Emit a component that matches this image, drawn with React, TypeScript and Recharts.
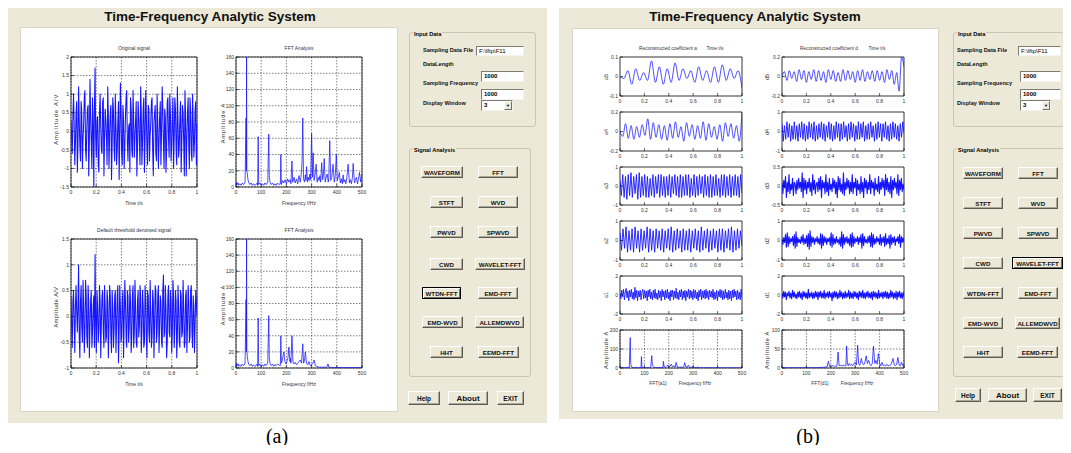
import React from 'react'
import { LineChart, Line, XAxis, YAxis, CartesianGrid, ReferenceArea } from 'recharts'

// ── Palette / fonts ───────────────────────────────────────────────────────────

const BEIGE = '#ECE9D8'
const BLUE = '#1414ff'
const SANS = '"Liberation Sans", Arial, sans-serif'

// ── Data ──────────────────────────────────────────────────────────────────────
// time signals are sampled evenly on 0..1 s, spectra are [freq, amplitude]

const TIME_TICKS = [0, 0.2, 0.4, 0.6, 0.8, 1]
const FREQ_TICKS = [0, 100, 200, 300, 400, 500]

const ORIG = [
  0.3,-0.2,-0.6,0.4,1.0,0.2,-0.9,-0.3,0.5,0.8,-1.1,-0.4,1.2,0.3,-0.4,-0.8,0.8,0.5,-1.0,-0.2,
  0.2,0.9,1.1,-0.5,-0.8,0.1,0.6,0.7,-1.2,-0.3,1.4,0.4,-0.3,-1.0,0.9,0.2,-1.5,0.6,1.7,-0.2,
  -0.7,0.3,0.4,-0.9,-1.1,0.5,1.0,0.1,-0.5,-0.6,0.8,0.9,-1.2,-0.2,0.6,0.3,-0.2,-0.9,1.2,0.4,
  -1.0,-0.1,0.5,0.7,-1.3,-0.4,0.9,0.6,-0.4,-0.8,1.0,0.2,-0.9,-0.5,0.3,0.8,-1.3,-0.2,1.3,0.5,
  -0.6,-0.9,0.7,0.3,-1.0,-0.4,0.4,0.9,1.1,-0.3,-0.8,0.1,0.2,-1.1,0.9,0.6,-0.5,-0.7,1.1,0.3,
  -0.7,-0.2,0.3,0.8,-1.2,-0.5,0.8,0.4,-0.3,-0.9,1.2,0.5,-0.9,-0.3,0.6,0.9,-1.1,-0.2,1.1,0.4,
  -0.4,-0.9,0.7,0.6,-0.8,-0.1,0.2,0.8,0.9,-0.5,-1.2,0.2,0.5,0.7,-0.6,-0.8,1.0,0.3,-1.0,-0.3,
  0.4,0.8,-0.9,-0.1,1.2,0.6,-0.3,-1.0,0.6,0.4,-1.1,-0.5,0.8,0.9,-0.2,-0.7,1.0,0.5,-0.8,-0.4,
  0.3,0.9,-1.0,-0.2,0.9,0.6,-0.5,-0.9,1.2,0.3,-0.7,-0.4,0.4,0.8,-1.1,-0.3,0.7,0.5,-0.3,-1.2,
  1.1,0.4,-1.2,-0.2,0.5,0.9,-0.4,-1.0,0.9,0.5,-0.6,-0.8,1.0,0.2,-0.7,-0.3,0.6,0.8,-0.9,0.2,
]

const DENOISED = [
  0.4,-0.2,-0.6,0.3,0.5,-0.1,-0.7,0.2,0.6,0.1,-0.3,0.2,1.0,-0.4,-0.8,0.3,0.6,-0.2,-0.5,0.7,
  0.2,-0.7,-0.3,0.7,0.4,-0.4,-0.6,0.6,0.3,-0.8,-0.2,0.3,0.5,-0.6,-0.3,0.2,0.4,-0.6,1.2,-0.1,
  -0.7,0.5,0.2,-0.5,-0.3,0.6,0.3,-0.8,-0.1,0.4,0.5,-0.3,-0.6,0.6,0.2,-0.5,-0.4,0.5,0.3,-0.8,
  -0.2,0.6,0.4,-0.4,-0.7,0.5,0.2,-0.6,-0.3,0.4,0.5,-0.7,-0.2,0.4,0.6,-0.9,-0.3,0.6,0.2,-0.5,
  -0.4,0.3,0.5,-0.8,-0.1,0.7,0.3,-0.4,-0.6,0.5,0.4,-0.5,-0.2,0.6,0.3,-0.7,-0.4,0.4,0.6,-0.6,
  -0.3,0.7,0.2,-0.5,-0.6,0.3,0.5,-0.4,-0.2,0.6,0.4,-0.7,-0.3,0.5,0.2,-0.6,-0.5,0.6,0.3,-0.4,
  -0.8,0.5,0.4,-0.3,-0.5,0.7,0.1,-0.6,-0.4,0.5,0.3,-0.8,-0.2,0.6,0.5,-0.5,-0.3,0.4,0.6,-0.7,
  -0.2,0.4,0.3,-0.5,-0.6,0.5,0.8,-0.4,-0.3,0.6,0.2,-0.8,-0.5,0.4,0.6,-0.3,-0.4,0.5,0.3,-0.7,
  -0.3,0.7,0.4,-0.6,-0.2,0.5,0.3,-0.8,-0.4,0.6,0.2,-0.5,-0.6,0.5,0.4,-0.4,-0.3,0.7,0.2,-0.6,
  -0.5,0.4,0.5,-0.7,-0.2,0.6,0.3,-0.5,-0.4,0.5,0.6,-0.3,-0.6,0.4,0.2,-0.7,-0.2,0.5,0.3,0.0,
]

const FFT_ORIG = [[0,2],[3,6],[5,3],[8,5],[10,2],[15,4],[20,2],[25,5],[30,3],[34,4],[36,7],[40,85],[41,20],[42,160],[43,22],[45,16],[47,10],[50,6],[55,3],[60,5],[65,2],[70,4],[75,2],[80,3],[84,5],[86,2],[88,62],[90,3],[95,5],[100,2],[105,4],[110,2],[115,5],[120,3],[126,6],[130,65],[132,14],[134,8],[136,5],[140,3],[145,5],[150,2],[155,4],[160,2],[165,5],[170,3],[176,4],[178,40],[180,3],[185,8],[190,5],[195,9],[200,4],[205,10],[210,6],[215,9],[218,4],[222,32],[225,6],[230,12],[235,5],[240,10],[245,4],[250,14],[255,6],[258,12],[262,30],[265,85],[268,10],[272,6],[275,15],[278,8],[280,25],[284,6],[287,12],[290,8],[293,16],[296,9],[300,66],[303,12],[306,42],[310,8],[314,16],[318,28],[322,6],[326,12],[330,8],[333,14],[336,6],[340,30],[344,9],[347,16],[350,35],[354,6],[358,12],[362,16],[366,6],[368,10],[372,57],[376,8],[380,12],[385,28],[390,6],[394,14],[398,40],[402,8],[406,12],[410,18],[414,5],[418,10],[422,4],[425,15],[428,6],[432,9],[436,4],[440,12],[445,28],[450,5],[454,9],[458,4],[462,12],[465,29],[470,5],[474,9],[478,12],[482,4],[486,10],[490,18],[495,6],[498,12],[500,16]]

const FFT_DENOISED = [[0,2],[3,6],[5,3],[8,5],[10,2],[15,4],[20,2],[25,5],[30,3],[34,4],[36,7],[40,85],[41,20],[42,160],[43,22],[45,14],[47,9],[50,5],[55,3],[60,5],[65,2],[70,4],[75,2],[80,3],[84,5],[86,2],[88,62],[90,3],[95,5],[100,2],[105,4],[110,2],[115,5],[120,3],[126,6],[130,65],[132,14],[134,8],[136,5],[140,3],[145,5],[150,2],[155,4],[160,3],[165,5],[170,4],[176,3],[178,40],[180,6],[184,9],[186,14],[190,20],[194,8],[198,5],[200,6],[203,9],[206,12],[210,26],[214,8],[216,12],[218,6],[222,40],[226,8],[230,5],[235,7],[240,4],[245,6],[250,8],[255,10],[260,6],[265,30],[268,6],[272,9],[275,20],[280,6],[285,4],[290,8],[295,3],[300,4],[305,6],[310,10],[315,3],[320,2],[330,1],[340,1],[350,1],[358,1],[362,2],[365,5],[368,1],[380,0.5],[400,0.5],[450,0.5],[500,0.5]]

const A5 = [0,-0.01,0.03,-0.04,0.04,-0.02,0.02,-0.02,0.08,-0.03,0.05,-0.04,0.04,-0.03,0.07,-0.02,0.04,-0.01,0.03,-0.03,0.05,-0.02,0.03,-0.03,0.05,-0.03,0.06,-0.02,0.04,-0.01,0.03,-0.06]
const A4 = [0,-0.05,0.08,-0.07,0.06,-0.08,0.05,-0.06,0.07,-0.04,0.13,-0.08,0.09,-0.06,0.07,-0.08,0.06,-0.09,0.08,-0.07,0.1,-0.06,0.05,-0.1,0.09,-0.05,0.07,-0.08,0.06,-0.07,0.1,-0.09,0.08,-0.06,0.05,-0.08,0.07,-0.1,0.09,-0.05,0.08,-0.07,0.06,-0.1,0.2]
const A3 = [0.3,-0.5,0.6,-0.6,0.5,-0.7,0.6,-0.5,0.7,-0.6,0.5,-0.4,0.6,-0.7,0.7,-0.6,0.5,-0.5,0.6,-0.6,0.5,-0.6,0.4,-0.5,0.6,-0.6,0.5,-0.4,0.6,-0.6,0.6,-0.5,0.5,-0.6,0.5,-0.5,0.6,-0.6,0.5,-0.4,0.6,-0.5,0.5,-0.6,0.6,-0.6,0.5,-0.5,0.6,-0.5,0.6,-0.6,0.4,-0.5,0.6,-0.6,0.5,-0.5,0.6,-0.4,0.5,-0.6,0.6,-0.5,0.5,-0.6,0.6,-0.6,0.5,-0.5,0.6,-0.5,0.4,-0.6,0.6,-0.5,0.6,-0.6,0.5,-0.5,0.6,-0.6,0.5,-0.5,0.6,-0.5,0.5,-0.6,0.6,-0.4]
const A2 = [0.4,-0.5,0.6,-0.4,0.7,-0.6,0.5,-0.5,0.6,-0.6,0.7,-0.4,0.5,-0.6,0.6,-0.5,0.5,-0.4,0.7,-0.6,0.6,-0.5,0.5,-0.6,0.6,-0.4,0.5,-0.5,0.6,-0.6,0.5,-0.4,0.6,-0.5,0.7,-0.6,0.5,-0.5,0.6,-0.4,0.5,-0.6,0.6,-0.5,0.5,-0.5,0.6,-0.6,0.5,-0.4,0.6,-0.5,0.5,-0.6,0.7,-0.5,0.5,-0.4,0.6,-0.6,0.5,-0.5,0.6,-0.4,0.5,-0.6,0.6,-0.5,0.6,-0.6,0.5,-0.4,0.6,-0.5,0.7,-0.6,0.5,-0.5,0.6,-0.4,0.5,-0.3]
const A1 = [
  0.2,-0.4,0.5,-0.2,0.6,-0.5,0.3,0.7,-0.3,0.4,-0.6,0.5,-0.2,0.6,-0.4,0.3,-0.5,0.8,-0.3,0.5,
  -0.6,0.4,-0.2,0.5,-0.5,0.3,0.6,-0.4,0.5,-0.3,0.4,-0.6,0.5,-0.2,0.6,-0.4,0.3,-0.5,0.5,-0.3,
  0.6,-0.4,0.2,-0.5,0.5,-0.3,0.4,-0.6,0.6,-0.2,0.4,-0.5,0.5,-0.3,0.6,-0.4,0.3,-0.6,0.5,-0.2,
  0.5,-0.5,0.4,-0.3,0.7,-0.4,0.3,-0.5,0.5,-0.2,0.6,-0.5,0.4,-0.3,0.5,-0.6,0.4,-0.2,0.6,-0.4,
  0.5,-0.3,0.4,-0.5,0.6,-0.3,0.5,-0.4,0.3,-0.6,0.5,-0.2,0.6,-0.5,0.4,-0.3,0.5,-0.4,0.6,-0.3,
  0.4,-0.5,0.5,-0.2,0.4,-0.3,0.6,-0.5,0.3,-0.4,0.5,-0.6,0.4,-0.2,0.6,-0.3,0.5,-0.5,0.4,-0.4,
  0.6,-0.3,0.3,-0.5,0.5,-0.4,0.4,-0.6,0.5,-0.3,0.6,-0.2,0.4,-0.5,0.5,-0.4,0.3,-0.5,0.6,-0.3,
]

const D5 = [0,0.05,-0.04,0.06,-0.02,0.05,-0.05,0.07,-0.03,0.06,-0.06,0.05,-0.03,0.07,-0.05,0.06,-0.04,0.05,-0.06,0.07,-0.03,0.06,-0.05,0.04,-0.05,0.07,-0.04,0.06,-0.03,0.05,-0.06,0.06,-0.04,0.07,-0.05,0.05,-0.03,0.06,-0.05,0.06,-0.04,0.05,-0.06,0.07,-0.03,0.06,-0.08,0.04,-0.15,0.2,0.1]
const D4 = [0.4,-0.5,0.3,-0.4,0.5,-0.3,0.4,-0.5,0.3,-0.4,0.5,-0.4,0.3,-0.5,0.4,-0.3,0.5,-0.4,0.4,-0.5,0.3,-0.4,0.5,-0.3,0.4,-0.4,0.5,-0.5,0.3,-0.4,0.4,-0.3,0.5,-0.4,0.4,-0.5,0.3,-0.3,0.5,-0.4,0.4,-0.5,0.3,-0.4,0.5,-0.3,0.4,-0.5,0.4,-0.4,0.5,-0.3,0.3,-0.5,0.4,-0.4,0.5,-0.3,0.4,-0.5,0.3,-0.4,0.5,-0.4,0.4,-0.3,0.5,-0.5,0.3,-0.4,0.4,-0.4,0.5,-0.3,0.3,-0.5,0.4,-0.4,0.5,-0.3,0.4,-0.5,0.4,-0.3,0.5,-0.4,0.3,-0.5,0.4,-0.4,0.5,-0.3,0.4,-0.4,0.3,-0.5,0.4,-0.3,0.5,-0.1]
const D3 = [
  0.1,-0.2,0.15,-0.05,0.25,-0.3,0.1,-0.15,0.3,-0.2,0.05,-0.1,0.2,-0.25,0.1,0.05,-0.2,0.15,-0.1,0.2,
  -0.05,0.1,-0.15,0.35,-0.3,0.2,-0.1,0.15,-0.2,0.1,-0.05,0.2,-0.15,0.1,-0.25,0.3,-0.1,0.15,-0.2,0.05,
  0.1,-0.15,0.2,-0.1,0.25,-0.3,0.15,-0.05,0.1,-0.2,0.3,-0.15,0.1,-0.25,0.2,-0.1,0.05,-0.15,0.2,-0.05,
  0.15,-0.2,0.1,-0.3,0.25,-0.1,0.2,-0.15,0.05,-0.2,0.35,-0.25,0.1,-0.1,0.2,-0.05,0.15,-0.2,0.1,-0.15,
  0.3,-0.2,0.1,-0.05,0.2,-0.25,0.15,-0.1,0.05,-0.2,0.25,-0.15,0.1,-0.3,0.2,-0.05,0.15,-0.2,0.1,-0.1,
  0.3,-0.2,0.15,-0.05,0.1,-0.25,0.2,-0.1,0.05,-0.15,0.25,-0.2,0.1,-0.1,0.2,-0.05,0.15,-0.25,0.3,-0.1,
  0.2,-0.15,0.1,-0.2,0.25,-0.3,0.15,-0.1,0.2,-0.05,0.1,-0.2,0.3,-0.25,0.15,-0.1,0.2,-0.15,0.05,-0.1,
]
const D2 = [
  0.1,-0.2,0.15,-0.1,0.3,-0.35,0.4,-0.3,0.2,-0.15,0.1,-0.05,0.2,-0.25,0.3,-0.4,0.45,-0.3,0.15,-0.1,
  0.05,-0.15,0.2,-0.1,0.3,-0.2,0.1,-0.15,0.25,-0.3,0.35,-0.45,0.5,-0.3,0.2,-0.1,0.15,-0.2,0.1,-0.05,
  0.2,-0.15,0.1,-0.2,0.35,-0.4,0.3,-0.25,0.2,-0.1,0.15,-0.2,0.1,-0.05,0.15,-0.25,0.4,-0.35,0.3,-0.2,
  0.1,-0.15,0.2,-0.1,0.05,-0.2,0.15,-0.3,0.45,-0.4,0.3,-0.2,0.15,-0.1,0.2,-0.15,0.1,-0.25,0.3,-0.35,
  0.4,-0.3,0.2,-0.15,0.1,-0.05,0.2,-0.2,0.15,-0.1,0.3,-0.4,0.35,-0.25,0.2,-0.1,0.05,-0.15,0.2,-0.1,
  0.25,-0.3,0.4,-0.35,0.3,-0.2,0.1,-0.15,0.2,-0.05,0.1,-0.2,0.3,-0.25,0.15,-0.1,0.2,-0.3,0.35,-0.2,
  0.1,-0.15,0.25,-0.4,0.3,-0.2,0.15,-0.1,0.2,-0.25,0.1,-0.05,0.2,-0.15,0.3,-0.35,0.2,-0.1,0.15,-0.1,
]
const D1 = [
  0.2,-0.3,0.4,-0.2,0.3,-0.5,0.2,-0.1,0.4,-0.3,0.2,-0.4,0.5,-0.2,0.3,-0.3,0.1,-0.4,0.3,-0.2,
  0.4,-0.3,0.2,-0.5,0.4,-0.2,0.3,-0.3,0.2,-0.4,0.6,-0.3,0.2,-0.2,0.3,-0.4,0.2,-0.3,0.4,-0.2,
  0.3,-0.5,0.3,-0.2,0.4,-0.3,0.2,-0.3,0.5,-0.4,0.2,-0.2,0.3,-0.3,0.4,-0.2,0.2,-0.6,0.3,-0.3,
  0.4,-0.2,0.3,-0.4,0.2,-0.3,0.5,-0.2,0.3,-0.4,0.2,-0.3,0.4,-0.3,0.2,-0.2,0.5,-0.4,0.3,-0.3,
  0.2,-0.4,0.4,-0.2,0.3,-0.3,0.2,-0.5,0.4,-0.2,0.3,-0.3,0.5,-0.3,0.2,-0.4,0.3,-0.2,0.4,-0.3,
  0.2,-0.3,0.3,-0.5,0.4,-0.2,0.3,-0.3,0.2,-0.4,0.5,-0.3,0.2,-0.2,0.3,-0.4,0.3,-0.2,0.4,-0.3,
  0.3,-0.4,0.2,-0.3,0.5,-0.2,0.3,-0.4,0.2,-0.3,0.4,-0.5,0.3,-0.2,0.4,-0.3,0.2,-0.4,0.3,-0.2,
]

const FFT_A1 = [[0,1],[10,2],[20,1],[30,3],[38,5],[42,160],[44,20],[48,6],[55,2],[60,3],[70,1],[80,2],[86,3],[88,60],[90,3],[100,1],[110,2],[120,1],[126,4],[130,65],[133,12],[140,4],[150,2],[160,3],[170,2],[176,3],[178,35],[181,5],[186,3],[190,8],[195,15],[200,5],[205,9],[210,20],[215,6],[222,12],[226,5],[230,30],[235,6],[242,4],[250,5],[256,3],[262,8],[265,28],[270,6],[275,4],[280,15],[285,4],[292,3],[300,8],[305,3],[312,2],[320,5],[325,1],[340,1],[360,1],[365,3],[370,0.5],[400,0.5],[500,0.5]]
const FFT_D1 = [[0,0.5],[100,0.5],[150,1],[170,2],[185,3],[190,18],[195,4],[202,5],[210,6],[218,4],[225,5],[230,42],[234,6],[240,7],[246,5],[250,8],[256,6],[262,6],[265,58],[268,10],[272,6],[275,12],[280,7],[285,10],[290,6],[295,12],[300,15],[305,8],[310,60],[314,12],[318,7],[320,10],[325,25],[330,12],[335,8],[340,15],[345,32],[350,12],[355,20],[360,10],[365,6],[370,12],[375,58],[380,12],[385,20],[390,10],[395,38],[400,12],[405,6],[410,15],[415,6],[420,8],[425,5],[430,10],[435,6],[440,6],[447,9],[455,25],[460,8],[465,6],[470,10],[475,28],[480,8],[485,6],[490,15],[495,6],[500,10]]

const BUTTONS = ['WAVEFORM', 'FFT', 'STFT', 'WVD', 'PWVD', 'SPWVD', 'CWD', 'WAVELET-FFT', 'WTDN-FFT', 'EMD-FFT', 'EMD-WVD', 'ALLEMDWVD', 'HHT', 'EEMD-FFT']

type Pt = { x: number; y: number }
const series = (ys: number[]): Pt[] => ys.map((y, i) => ({ x: i / (ys.length - 1), y }))
const spectrum = (pairs: number[][]): Pt[] => pairs.map(([x, y]) => ({ x, y }))

// ── Small helpers ─────────────────────────────────────────────────────────────

function Txt({ x, y, children, size = 5, bold = false, anchor = 'middle', rotate = 0, spacing = 0, color = '#333', family = SANS }: any) {
  const tx = anchor === 'middle' ? '-50%' : anchor === 'end' ? '-100%' : '0'
  return (
    <div
      style={{
        position: 'absolute', left: x, top: y, whiteSpace: 'nowrap', lineHeight: 1,
        transform: `translate(${tx}, -50%)${rotate ? ` rotate(${rotate}deg)` : ''}`,
        fontSize: size, fontWeight: bold ? 'bold' : 'normal', letterSpacing: spacing,
        color, fontFamily: family,
      }}
    >
      {children}
    </div>
  )
}

function Plot({ l, t, r, b, data, xDomain, xTicks, yDomain, yTicks, grid = false, smooth = false, sw = 0.75 }: any) {
  const YW = 24, XH = 14, MT = 4, MR = 6
  const tick = { fontSize: 5, fill: '#333', fontFamily: SANS }
  return (
    <div style={{ position: 'absolute', left: l - YW, top: t - MT }}>
      <LineChart width={r - l + YW + MR} height={b - t + MT + XH} data={data} margin={{ top: MT, right: MR, left: 0, bottom: 0 }}>
        {grid && <CartesianGrid stroke="#000" strokeWidth={0.5} strokeDasharray="1.5 1.5" />}
        <XAxis type="number" dataKey="x" domain={xDomain} ticks={xTicks} interval={0} allowDataOverflow height={XH}
          axisLine={false} tickSize={-3} tickMargin={6} tick={tick} tickLine={{ stroke: '#000', strokeWidth: 0.6 }} />
        <YAxis type="number" domain={yDomain} ticks={yTicks} interval={0} allowDataOverflow width={YW}
          axisLine={false} tickSize={-3} tickMargin={5} tick={tick} tickLine={{ stroke: '#000', strokeWidth: 0.6 }} />
        <Line type={smooth ? 'monotone' : 'linear'} dataKey="y" stroke={BLUE} strokeWidth={sw} strokeLinejoin="round" dot={false} isAnimationActive={false} />
        <ReferenceArea x1={xDomain[0]} x2={xDomain[1]} y1={yDomain[0]} y2={yDomain[1]} fill="none" stroke="#000" strokeWidth={0.8} ifOverflow="visible" />
      </LineChart>
    </div>
  )
}

function Group({ x, y, w, h, label }: any) {
  return (
    <div style={{ position: 'absolute', left: x, top: y, width: w, height: h, boxSizing: 'border-box', border: '1px solid #C9C6B6', borderRadius: 3 }}>
      <div style={{ position: 'absolute', left: 3, top: -1, background: BEIGE, fontSize: 5.6, fontWeight: 'bold', fontFamily: SANS, lineHeight: 1, padding: '0 1px' }}>{label}</div>
    </div>
  )
}

function Edit({ x1, y1, x2, y2, value, bold = false }: any) {
  return (
    <div style={{
      position: 'absolute', left: x1, top: y1, width: x2 - x1, height: y2 - y1, boxSizing: 'border-box', background: '#fff',
      borderStyle: 'solid', borderWidth: 1, borderColor: '#7F7D72 #F4F3EE #F4F3EE #7F7D72',
      fontSize: 6, fontWeight: bold ? 'bold' : 'normal', fontFamily: SANS, lineHeight: `${y2 - y1 - 2}px`, paddingLeft: 2,
    }}>{value}</div>
  )
}

function Popup({ x1, y1, x2, y2, value }: any) {
  return (
    <div style={{
      position: 'absolute', left: x1, top: y1, width: x2 - x1, height: y2 - y1, boxSizing: 'border-box', background: '#fff',
      borderStyle: 'solid', borderWidth: 1, borderColor: '#7F7D72 #F4F3EE #F4F3EE #7F7D72',
      fontSize: 6, fontWeight: 'bold', fontFamily: SANS, lineHeight: `${y2 - y1 - 2}px`, paddingLeft: 2,
    }}>
      {value}
      <div style={{
        position: 'absolute', right: 0, top: 0, width: 8, height: y2 - y1 - 2, boxSizing: 'border-box', background: BEIGE,
        borderStyle: 'solid', borderWidth: 1, borderColor: '#fff #716F64 #716F64 #fff', fontSize: 4, lineHeight: `${y2 - y1 - 4}px`, textAlign: 'center',
      }}>▼</div>
    </div>
  )
}

function Btn({ x1, x2, cy, label, pressed = false, size = 6.2, h = 12 }: any) {
  return (
    <div style={{
      position: 'absolute', left: x1, top: cy - h / 2, width: x2 - x1, height: h, boxSizing: 'border-box', background: BEIGE,
      borderStyle: 'solid', borderWidth: 1,
      borderColor: pressed ? '#000' : '#fff #5E5C52 #5E5C52 #fff',
      boxShadow: pressed ? 'inset 1px 1px #fff, inset -1px -1px #716F64' : 'inset -1px -1px #ACA899',
      display: 'flex', alignItems: 'center', justifyContent: 'center',
      fontSize: size, fontWeight: 'bold', fontFamily: SANS, whiteSpace: 'nowrap', color: '#111',
    }}>{label}</div>
  )
}

// control panel on the right of each window
function Controls({ gx, gw, sw, labelX, edit1, editX, editR, popR, cols, rows, pressed, help, about, exit, btmY }: any) {
  return (
    <>
      <Group x={gx} y={32} w={gw} h={95} label="Input Data" />
      <Txt x={labelX} y={51} size={5.6} bold anchor="start" color="#111">Sampling Data File</Txt>
      <Txt x={labelX} y={65} size={5.6} bold anchor="start" color="#111">DataLength</Txt>
      <Txt x={labelX} y={84} size={5.6} bold anchor="start" color="#111">Sampling Frequency</Txt>
      <Txt x={labelX} y={104} size={5.6} bold anchor="start" color="#111">Display Window</Txt>
      <Edit x1={edit1} y1={46} x2={editR} y2={56} value="F:\lftp\F11" />
      <Edit x1={editX} y1={71} x2={editR} y2={82} value="1000" bold />
      <Edit x1={editX} y1={89} x2={editR} y2={100} value="1000" bold />
      <Popup x1={editX} y1={100} x2={popR} y2={111} value="3" />
      <Group x={gx} y={148} w={sw} h={229} label="Signal Analysis" />
      {BUTTONS.map((name, i) => {
        const c = cols[i]
        return <Btn key={name} x1={c[0]} x2={c[1]} cy={rows[Math.floor(i / 2)]} label={name} pressed={name === pressed} />
      })}
      <Btn x1={help[0]} x2={help[1]} cy={btmY} h={14} label="Help" size={6.5} />
      <Btn x1={about[0]} x2={about[1]} cy={btmY} h={14} label="About" size={8} />
      <Btn x1={exit[0]} x2={exit[1]} cy={btmY} h={14} label="EXIT" size={6.5} />
    </>
  )
}

// ── App ───────────────────────────────────────────────────────────────────────

export default function App() {
  const ORIG_PTS = series(ORIG)
  const DEN_PTS = series(DENOISED)
  const leftRows = [[57, 96], [112, 151], [167, 205], [221, 260], [276, 314]]
  const aSig = [
    { name: 'a5', ys: A5, dom: [-0.1, 0.1], ticks: [-0.1, 0, 0.1], smooth: true, sw: 0.75 },
    { name: 'a4', ys: A4, dom: [-0.2, 0.2], ticks: [-0.2, 0, 0.2], smooth: true, sw: 0.75 },
    { name: 'a3', ys: A3, dom: [-1, 1], ticks: [-1, 0, 1], sw: 0.9 },
    { name: 'a2', ys: A2, dom: [-1, 1], ticks: [-1, 0, 1], sw: 0.9 },
    { name: 'a1', ys: A1, dom: [-2, 2], ticks: [-2, 0, 2], sw: 0.9 },
  ]
  const dSig = [
    { name: 'd5', ys: D5, dom: [-0.2, 0.2], ticks: [-0.2, 0, 0.2], smooth: true, sw: 0.75 },
    { name: 'd4', ys: D4, dom: [-1, 1], ticks: [-1, 0, 1], sw: 0.9 },
    { name: 'd3', ys: D3, dom: [-0.5, 0.5], ticks: [-0.5, 0, 0.5], sw: 1.1 },
    { name: 'd2', ys: D2, dom: [-1, 1], ticks: [-1, 0, 1], sw: 1.1 },
    { name: 'd1', ys: D1, dom: [-2, 2], ticks: [-2, 0, 2], sw: 1.1 },
  ]
  const colsA = [[421, 463], [478, 518], [430, 463], [478, 518], [430, 463], [478, 518], [430, 463], [475, 525], [422, 461], [478, 518], [422, 463], [475, 524], [430, 463], [478, 519]]
  const colsB = [[963, 1003], [1018, 1058], [963, 1003], [1018, 1058], [963, 1003], [1018, 1058], [963, 1003], [1012, 1063], [963, 1003], [1018, 1058], [963, 1003], [1015, 1060], [963, 1003], [1017, 1058]]
  const SERIF = '"Liberation Serif", "Times New Roman", serif'

  return (
    <div style={{ position: 'relative', width: 1071, height: 453, background: '#fff', margin: -8, overflow: 'hidden', fontFamily: SANS }}>
      {/* ── window (a) ── */}
      <div style={{ position: 'absolute', left: 8, top: 4, width: 539, height: 419, background: BEIGE }} />
      <div style={{ position: 'absolute', left: 20, top: 27, width: 378, height: 385, background: '#fff', border: '1px solid #D8D5C6', boxSizing: 'border-box' }} />
      <Txt x={210} y={17} size={13.5} bold color="#111">Time-Frequency Analytic System</Txt>

      <Txt x={134} y={48}>Original signal</Txt>
      <Plot l={71} t={57} r={197} b={187} data={ORIG_PTS} xDomain={[0, 1]} xTicks={TIME_TICKS} yDomain={[-1.5, 2]} yTicks={[-1.5, -1, -0.5, 0, 0.5, 1, 1.5, 2]} grid sw={1.05} />
      <Txt x={134} y={203}>Time t/s</Txt>
      <Txt x={57} y={119} size={5.5} rotate={-90} spacing={1.3}>Amplitude A/V</Txt>

      <Txt x={299} y={48}>FFT Analysis</Txt>
      <Plot l={236} t={57} r={362} b={187} data={spectrum(FFT_ORIG)} xDomain={[0, 500]} xTicks={FREQ_TICKS} yDomain={[0, 160]} yTicks={[0, 20, 40, 60, 80, 100, 120, 140, 160]} grid />
      <Txt x={299} y={203}>Frequency f/Hz</Txt>
      <Txt x={224} y={123} size={5.5} rotate={-90} spacing={1}>Amplitude A</Txt>

      <Txt x={134} y={230}>Default threshold denoised signal</Txt>
      <Plot l={71} t={239} r={197} b={368} data={DEN_PTS} xDomain={[0, 1]} xTicks={TIME_TICKS} yDomain={[-1, 1.5]} yTicks={[-1, -0.5, 0, 0.5, 1, 1.5]} grid sw={1.05} />
      <Txt x={134} y={384}>Time t/s</Txt>
      <Txt x={57} y={307} size={5.5} rotate={-90} spacing={0.5}>Amplitude A/V</Txt>

      <Txt x={299} y={230}>FFT Analysis</Txt>
      <Plot l={236} t={239} r={362} b={368} data={spectrum(FFT_DENOISED)} xDomain={[0, 500]} xTicks={FREQ_TICKS} yDomain={[0, 160]} yTicks={[0, 20, 40, 60, 80, 100, 120, 140, 160]} grid />
      <Txt x={299} y={384}>Frequency f/Hz</Txt>
      <Txt x={224} y={305} size={5.5} rotate={-90} spacing={1}>Amplitude A</Txt>

      <Controls gx={409} gw={127} sw={122} labelX={423} edit1={476} editX={481} editR={524} popR={513}
        cols={colsA} rows={[172, 202, 232, 264, 293, 322, 352]} pressed="WTDN-FFT"
        help={[408, 440]} about={[448, 488]} exit={[497, 524]} btmY={398} />

      <Txt x={277} y={436} size={20} color="#000" family={SERIF}>(a)</Txt>

      {/* ── window (b) ── */}
      <div style={{ position: 'absolute', left: 559, top: 4, width: 508, height: 415, background: BEIGE }} />
      <div style={{ position: 'absolute', left: 572, top: 28, width: 367, height: 384, background: '#fff', border: '1px solid #D8D5C6', boxSizing: 'border-box' }} />
      <Txt x={755} y={17} size={13.5} bold color="#111">Time-Frequency Analytic System</Txt>

      <Txt x={668} y={49} size={4.8}>Reconstructed coefficient a</Txt>
      <Txt x={715} y={49} size={4.8}>Time t/s</Txt>
      <Txt x={829} y={49} size={4.8}>Reconstructed coefficient d</Txt>
      <Txt x={877} y={49} size={4.8}>Time t/s</Txt>

      {aSig.map((s, i) => (
        <React.Fragment key={s.name}>
          <Plot l={620} t={leftRows[i][0]} r={742} b={leftRows[i][1]} data={series(s.ys)} xDomain={[0, 1]} xTicks={TIME_TICKS} yDomain={s.dom} yTicks={s.ticks} smooth={s.smooth} sw={s.sw} />
          <Txt x={607} y={(leftRows[i][0] + leftRows[i][1]) / 2} size={5.5} rotate={-90}>{s.name}</Txt>
        </React.Fragment>
      ))}
      {dSig.map((s, i) => (
        <React.Fragment key={s.name}>
          <Plot l={782} t={leftRows[i][0]} r={904} b={leftRows[i][1]} data={series(s.ys)} xDomain={[0, 1]} xTicks={TIME_TICKS} yDomain={s.dom} yTicks={s.ticks} smooth={s.smooth} sw={s.sw} />
          <Txt x={768} y={(leftRows[i][0] + leftRows[i][1]) / 2} size={5.5} rotate={-90}>{s.name}</Txt>
        </React.Fragment>
      ))}

      <Plot l={620} t={330} r={742} b={368} data={spectrum(FFT_A1)} xDomain={[0, 500]} xTicks={FREQ_TICKS} yDomain={[0, 200]} yTicks={[0, 100, 200]} grid />
      <Txt x={607} y={350} size={5.5} rotate={-90} spacing={0.8}>Amplitude A</Txt>
      <Txt x={658} y={384} size={4.8}>FFT(a1)</Txt>
      <Txt x={695} y={384} size={4.8}>Frequency f/Hz</Txt>

      <Plot l={782} t={330} r={904} b={368} data={spectrum(FFT_D1)} xDomain={[0, 500]} xTicks={FREQ_TICKS} yDomain={[0, 100]} yTicks={[0, 50, 100]} grid />
      <Txt x={768} y={350} size={5.5} rotate={-90} spacing={0.8}>Amplitude A</Txt>
      <Txt x={820} y={384} size={4.8}>FFT(d1)</Txt>
      <Txt x={857} y={384} size={4.8}>Frequency f/Hz</Txt>

      <Controls gx={953} gw={111} sw={112} labelX={957} edit1={1018} editX={1020} editR={1061} popR={1051}
        cols={colsB} rows={[173, 203, 233, 263, 293, 323, 352]} pressed="WAVELET-FFT"
        help={[955, 981]} about={[988, 1027]} exit={[1033, 1062]} btmY={395} />

      <Txt x={808} y={436} size={20} color="#000" family={SERIF}>(b)</Txt>
    </div>
  )
}
